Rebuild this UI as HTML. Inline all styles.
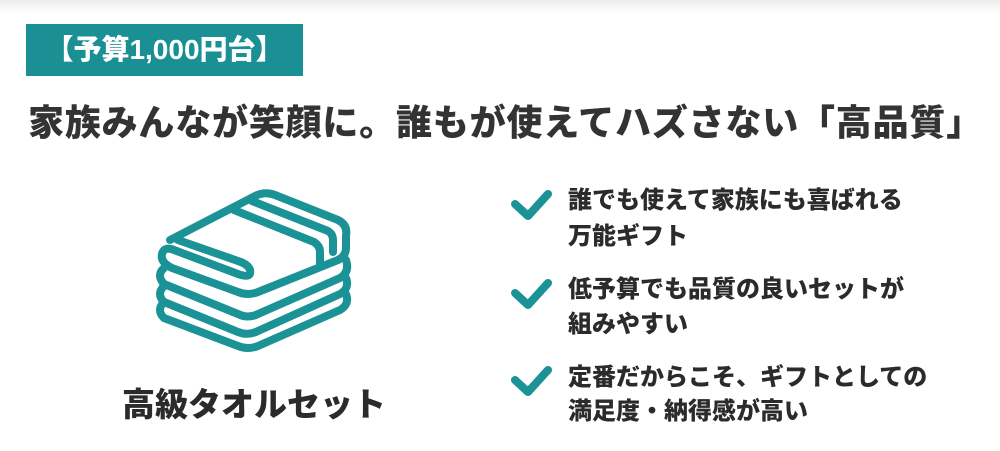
<!DOCTYPE html>
<html><head><meta charset="utf-8"><style>
body{margin:0;width:1000px;height:451px;background:#fff;overflow:hidden;position:relative;font-family:"Liberation Sans","Noto Sans CJK JP",sans-serif;font-weight:900;color:#2b2b2b}
.top{position:absolute;left:0;top:0;width:1000px;height:14px;background:linear-gradient(#ececec,#fff)}
.badge{position:absolute;left:26px;top:24px;width:277px;height:52px;background:#1a8f94;color:#fff;font-size:28px;line-height:52px;text-align:center;white-space:nowrap}
.title{position:absolute;left:28px;top:94px;font-size:36px;letter-spacing:0.8px;white-space:nowrap;color:#333}
.label{position:absolute;left:122px;top:378px;font-size:33px;white-space:nowrap}
.li{position:absolute;left:568px;font-size:24px;line-height:35px;white-space:nowrap}
svg{position:absolute;left:0;top:0}
</style></head><body>
<div class="top"></div>
<div class="badge">【予算1,000円台】</div>
<div class="title">家族みんなが笑顔に。誰もが使えてハズさない「高品質」</div>
<svg width="1000" height="451" fill="none" stroke="#1a9296" stroke-width="8" stroke-linecap="round" stroke-linejoin="round">
<path d="M170 240 L255 196 Q265 191 275 195 L338 220 Q348 225 346 236 L346 248 Q346 256 338 260 L258 292 Q248 296 238 292 L172 268 Q160 262 162 254 Q164 246 174 250 L238 274 Q252 279 250 270 Q248 264 238 261 L178 240"/>
<path d="M234 210 L314 242 Q320 246 320 252 L320 264"/>
<path d="M252 201 L328 231 Q333 234 333 240 L333 252"/>
<path d="M164 268 Q156 275 164 284 L238 314 Q248 319 258 314 L340 278 Q350 272 346 260"/>
<path d="M164 286 Q156 294 164 302 L238 332 Q248 336 258 331 L340 294 Q350 288 346 278"/>
<path d="M164 302 Q156 310 164 318 L238 346 Q248 350 258 346 L340 310 Q350 304 346 294"/>
<path d="M515 204 L528 216 L548 194"/>
<path d="M515 293 L528 305 L548 283"/>
<path d="M515 380 L528 392 L548 370"/>
</svg>
<div class="li" style="top:183px">誰でも使えて家族にも喜ばれる</div>
<div class="li" style="top:219px">万能ギフト</div>
<div class="li" style="top:272px">低予算でも品質の良いセットが</div>
<div class="li" style="top:307px">組みやすい</div>
<div class="li" style="top:360px">定番だからこそ、ギフトとしての</div>
<div class="li" style="top:394px">満足度・納得感が高い</div>
<div class="label">高級タオルセット</div>
</body></html>
